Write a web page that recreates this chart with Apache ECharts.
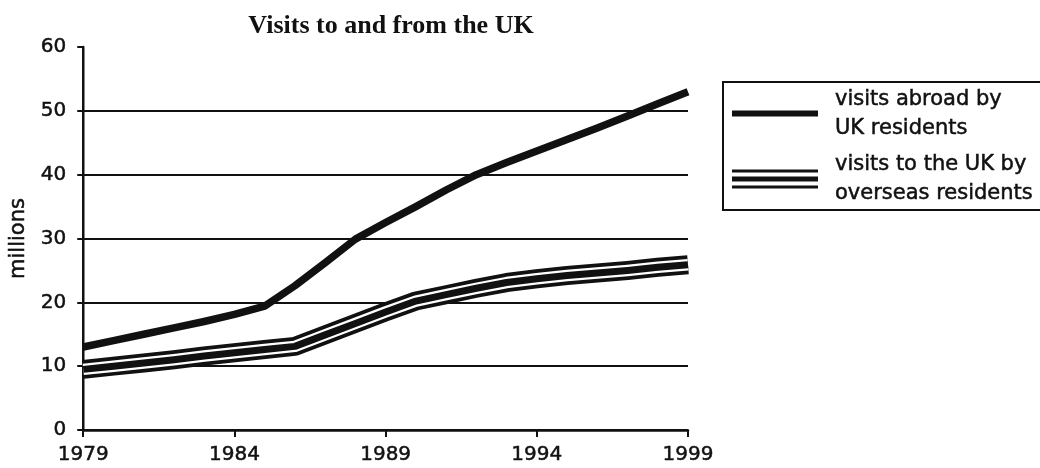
<!DOCTYPE html>
<html>
<head>
<meta charset="utf-8">
<script src="https://cdn.jsdelivr.net/npm/echarts@6/dist/echarts.min.js"></script>
<style>
  html, body { margin: 0; padding: 0; background: #fff; }
  #chart { width: 1040px; height: 468px; }
</style>
</head>
<body>
<div id="chart"></div>
<script>
const years = ['1979','1980','1981','1982','1983','1984','1985','1986','1987','1988','1989',
               '1990','1991','1992','1993','1994','1995','1996','1997','1998','1999'];
const abroadName = 'visits abroad by UK residents';
const overseasName = 'visits to the UK by overseas residents';
const abroad = [13.0, 14.0, 15.0, 16.0, 17.0, 18.1, 19.4, 22.6, 26.2, 29.9, 32.5,
                35.0, 37.6, 40.0, 41.9, 43.7, 45.5, 47.3, 49.2, 51.1, 53.0];
const overseas = [9.5, 10.0, 10.5, 11.0, 11.6, 12.1, 12.6, 13.1, 14.9, 16.7, 18.5,
                  20.2, 21.2, 22.2, 23.1, 23.7, 24.2, 24.6, 25.0, 25.5, 25.9];
const yTicks = [0, 10, 20, 30, 40, 50, 60];

const ink = '#111';
const heavy = { textBorderColor: ink, textBorderWidth: 0.5 };
const chart = echarts.init(document.getElementById('chart'));
chart.setOption({
  animation: false,
  backgroundColor: '#fff',
  title: {
    text: 'Visits to and from the UK',
    left: 386, top: 8, textAlign: 'center',
    textStyle: { fontFamily: 'Liberation Serif', fontWeight: 'bold', fontSize: 26, color: ink }
  },
  grid: { left: 83, right: 352, top: 47, bottom: 38 },
  legend: {
    orient: 'vertical',
    left: 723, top: 82,
    padding: [3, 20, 2, 9],
    borderColor: ink, borderWidth: 2,
    itemWidth: 86, itemHeight: 19, itemGap: 7,
    data: [
      { name: abroadName, icon: 'path://M0,0H0.5V0.01H0Z M0,6H86V12H0Z M0,18.99H0.5V19H0Z' },
      { name: overseasName, icon: 'path://M0,0H86V3H0Z M0,7H86V12H0Z M0,16H86V19H0Z' }
    ],
    itemStyle: { color: ink, borderWidth: 0 },
    formatter: function (n) {
      return n === abroadName ? 'visits abroad by\nUK residents' : 'visits to the UK by\noverseas residents';
    },
    textStyle: Object.assign({ fontFamily: 'DejaVu Sans', fontSize: 21, lineHeight: 29, color: ink, padding: [0, 0, 0, 12] }, heavy)
  },
  xAxis: {
    type: 'category',
    data: years,
    boundaryGap: false,
    axisLine: { lineStyle: { color: ink, width: 2.5 } },
    axisTick: { interval: 4, length: 7, lineStyle: { color: ink, width: 2 } },
    axisLabel: Object.assign({ interval: 4, margin: 15, fontFamily: 'DejaVu Sans', fontSize: 20, color: ink }, heavy),
    splitLine: { show: false }
  },
  yAxis: {
    type: 'value',
    min: yTicks[0], max: yTicks[yTicks.length - 1], interval: 10,
    name: 'millions',
    nameLocation: 'middle', nameRotate: 90, nameGap: 54,
    nameTextStyle: Object.assign({ fontFamily: 'DejaVu Sans', fontSize: 21, color: ink }, heavy),
    axisLine: { show: true, lineStyle: { color: ink, width: 2.5 } },
    axisTick: { show: true, length: 6, lineStyle: { color: ink, width: 2 } },
    axisLabel: Object.assign({ margin: 17, fontFamily: 'DejaVu Sans', fontSize: 20, color: ink }, heavy),
    splitLine: { show: true, lineStyle: { color: [ink, ink, ink, ink, ink, ink, 'rgba(0,0,0,0)'], width: 2 } }
  },
  series: [
    {
      name: overseasName, type: 'line', data: overseas, symbol: 'none',
      color: ink, lineStyle: { color: ink, width: 19, join: 'round' }, z: 3
    },
    {
      name: 'overseas-gap', type: 'line', data: overseas, symbol: 'none',
      color: '#fff', lineStyle: { color: '#fff', width: 11.5, join: 'round' }, z: 4
    },
    {
      name: 'overseas-core', type: 'line', data: overseas, symbol: 'none',
      color: ink, lineStyle: { color: ink, width: 7, join: 'round' }, z: 5
    },
    {
      name: abroadName, type: 'line', data: abroad, symbol: 'none',
      color: ink, lineStyle: { color: ink, width: 7.5, join: 'round' }, z: 6
    }
  ]
});
</script>
</body>
</html>
